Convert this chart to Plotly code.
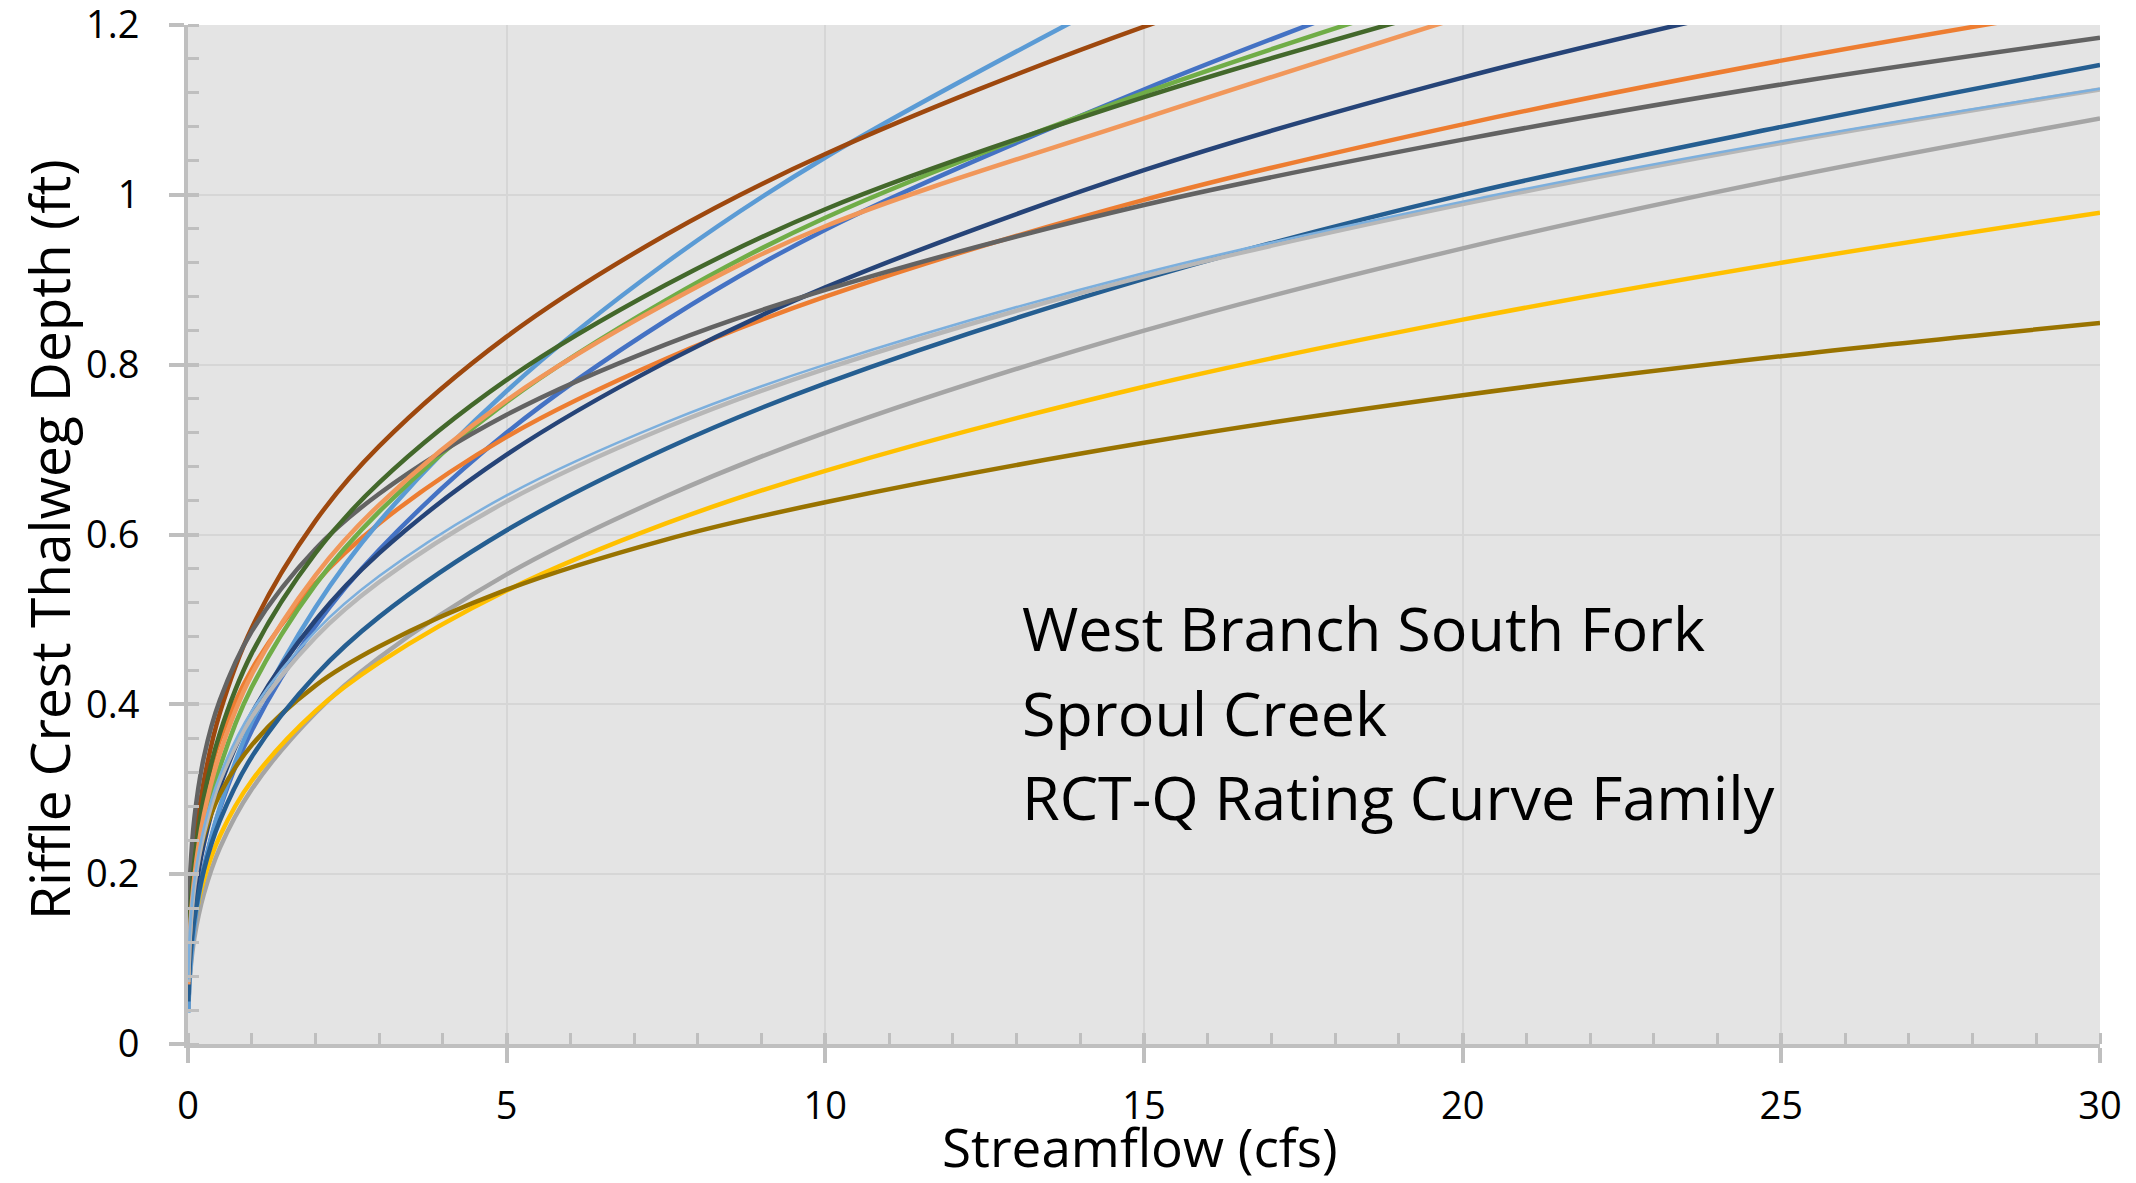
import plotly.graph_objects as go

# Streamflow sample points (cfs) shared by every rating curve
FLOW = [0.005, 0.03, 0.1, 0.25, 0.5, 1, 2, 3, 5, 7.5, 10, 15, 20, 25, 30]

# Riffle crest thalweg depth (ft) for each riffle's RCT-Q rating curve
depth_blue = [0.041, 0.086, 0.142, 0.208, 0.277, 0.369, 0.492, 0.582, 0.720, 0.852, 0.959, 1.124, 1.268]
depth_orange = [0.090, 0.154, 0.221, 0.291, 0.358, 0.441, 0.543, 0.613, 0.715, 0.807, 0.880, 0.994, 1.083, 1.158, 1.223]
depth_gray = [0.040, 0.079, 0.125, 0.177, 0.231, 0.300, 0.390, 0.455, 0.553, 0.645, 0.720, 0.840, 0.937, 1.019, 1.090]
depth_gold = [0.052, 0.095, 0.142, 0.194, 0.245, 0.310, 0.392, 0.449, 0.534, 0.613, 0.675, 0.774, 0.853, 0.920, 0.979]
depth_sky = [0.037, 0.081, 0.138, 0.206, 0.279, 0.379, 0.514, 0.615, 0.769, 0.920, 1.044, 1.248]
depth_green = [0.061, 0.117, 0.181, 0.253, 0.326, 0.420, 0.541, 0.627, 0.756, 0.876, 0.973, 1.120, 1.244]
depth_navy = [0.058, 0.110, 0.170, 0.236, 0.303, 0.389, 0.499, 0.578, 0.694, 0.803, 0.891, 1.029, 1.138, 1.228]
depth_brown = [0.085, 0.154, 0.229, 0.310, 0.390, 0.490, 0.616, 0.704, 0.833, 0.953, 1.048, 1.198, 1.317]
depth_charcoal = [0.121, 0.194, 0.266, 0.338, 0.405, 0.486, 0.583, 0.648, 0.741, 0.824, 0.888, 0.988, 1.065, 1.130, 1.185]
depth_olive = [0.089, 0.141, 0.193, 0.245, 0.294, 0.352, 0.422, 0.468, 0.535, 0.594, 0.638, 0.708, 0.764, 0.810, 0.849]
depth_steel = [0.050, 0.095, 0.147, 0.205, 0.263, 0.338, 0.434, 0.503, 0.605, 0.701, 0.778, 0.901, 1.000, 1.080, 1.153]
depth_forest = [0.080, 0.145, 0.215, 0.291, 0.366, 0.460, 0.578, 0.661, 0.782, 0.894, 0.983, 1.115, 1.225]
depth_peach = [0.070, 0.130, 0.197, 0.270, 0.342, 0.435, 0.552, 0.635, 0.758, 0.872, 0.963, 1.090, 1.210]
depth_silver = [0.073, 0.128, 0.186, 0.249, 0.310, 0.385, 0.479, 0.544, 0.639, 0.726, 0.795, 0.904, 0.989, 1.061, 1.124]
depth_ice = [0.076, 0.132, 0.192, 0.255, 0.316, 0.392, 0.486, 0.551, 0.646, 0.732, 0.800, 0.908, 0.992, 1.063, 1.125]

SERIES = [
    ("Riffle 1", depth_blue, "#4472C4", 4.5),
    ("Riffle 2", depth_orange, "#ED7D31", 4.5),
    ("Riffle 3", depth_gray, "#A5A5A5", 4.5),
    ("Riffle 4", depth_gold, "#FFC000", 4.5),
    ("Riffle 5", depth_sky, "#5B9BD5", 4.5),
    ("Riffle 6", depth_green, "#70AD47", 4.5),
    ("Riffle 7", depth_navy, "#264478", 4.5),
    ("Riffle 8", depth_brown, "#9E480E", 4.5),
    ("Riffle 9", depth_charcoal, "#636363", 4.5),
    ("Riffle 10", depth_olive, "#997300", 4.5),
    ("Riffle 11", depth_steel, "#255E91", 4.5),
    ("Riffle 12", depth_forest, "#43682B", 4.5),
    ("Riffle 13", depth_peach, "#F1975A", 4.5),
    ("Riffle 14", depth_silver, "#B7B7B7", 4.5),
    ("Riffle 15", depth_ice, "#7CAFDD", 2.5),
]

TITLE_LINES = ["West Branch South Fork", "Sproul Creek", "RCT-Q Rating Curve Family"]

FONT = "Open Sans"
AXIS_GRAY = "#BFBFBF"

fig = go.Figure()
for name, depth, color, width in SERIES:
    fig.add_trace(go.Scatter(
        x=FLOW[:len(depth)], y=depth, name=name, mode="lines",
        line=dict(color=color, width=width, shape="spline", smoothing=1.0),
        showlegend=False,
    ))

# empty trace so the overlay axes (inner half of the major ticks) exist
fig.add_trace(go.Scatter(x=[], y=[], xaxis="x2", yaxis="y2", showlegend=False))

tick_font = dict(family=FONT, size=38, color="#000000")

fig.update_layout(
    width=2136, height=1183,
    margin=dict(l=188, r=36, t=25, b=139, autoexpand=False),
    paper_bgcolor="#FFFFFF",
    plot_bgcolor="#E4E4E4",
    xaxis=dict(
        range=[0, 30], tickvals=[0, 5, 10, 15, 20, 25, 30], automargin=False,
        showgrid=True, gridcolor="#D6D6D6", gridwidth=2,
        zeroline=False,
        showline=True, linecolor=AXIS_GRAY, linewidth=4,
        ticks="outside", ticklen=15, tickwidth=4, tickcolor=AXIS_GRAY,
        minor=dict(ticks="inside", ticklen=11, tickwidth=3, tickcolor=AXIS_GRAY, dtick=1, showgrid=False),
        tickfont=tick_font, ticklabelstandoff=10, ticklabeloverflow="allow",
    ),
    yaxis=dict(
        range=[0, 1.2], tickvals=[0, 0.2, 0.4, 0.6, 0.8, 1.0, 1.2],
        ticktext=["0", "0.2", "0.4", "0.6", "0.8", "1", "1.2"], automargin=False,
        showgrid=True, gridcolor="#D6D6D6", gridwidth=2,
        zeroline=False,
        showline=True, linecolor=AXIS_GRAY, linewidth=4,
        ticks="outside", ticklen=15, tickwidth=4, tickcolor=AXIS_GRAY,
        minor=dict(ticks="inside", ticklen=11, tickwidth=3, tickcolor=AXIS_GRAY, dtick=0.04, showgrid=False),
        tickfont=tick_font, ticklabelstandoff=22, ticklabeloverflow="allow",
    ),
    xaxis2=dict(
        range=[0, 30], dtick=5, tick0=0, overlaying="x", anchor="y", side="bottom", automargin=False,
        showgrid=False, zeroline=False, showline=False, showticklabels=False,
        ticks="inside", ticklen=11, tickwidth=4, tickcolor=AXIS_GRAY,
    ),
    yaxis2=dict(
        range=[0, 1.2], tickvals=[0, 0.2, 0.4, 0.6, 0.8, 1.0, 1.2], overlaying="y", anchor="x", side="left",
        automargin=False,
        showgrid=False, zeroline=False, showline=False, showticklabels=False,
        ticks="inside", ticklen=11, tickwidth=4, tickcolor=AXIS_GRAY,
    ),
)

annotations = [
    dict(text="Streamflow (cfs)", xref="paper", yref="paper", x=0.498, y=-0.101,
         xanchor="center", yanchor="middle", showarrow=False,
         font=dict(family=FONT, size=53, color="#000000")),
    dict(text="Riffle Crest Thalweg Depth (ft)", xref="paper", yref="paper", x=-0.0732, y=0.4946,
         xanchor="center", yanchor="middle", textangle=-90, showarrow=False,
         font=dict(family=FONT, size=55, color="#000000")),
]
for line, ypos in zip(TITLE_LINES, [0.4092, 0.3255, 0.2424]):
    annotations.append(dict(
        text=line, xref="paper", yref="paper", x=0.4351, y=ypos,
        xanchor="left", yanchor="middle", showarrow=False,
        font=dict(family=FONT, size=61, color="#000000"),
    ))
fig.update_layout(annotations=annotations)

fig.write_html("out.html")
